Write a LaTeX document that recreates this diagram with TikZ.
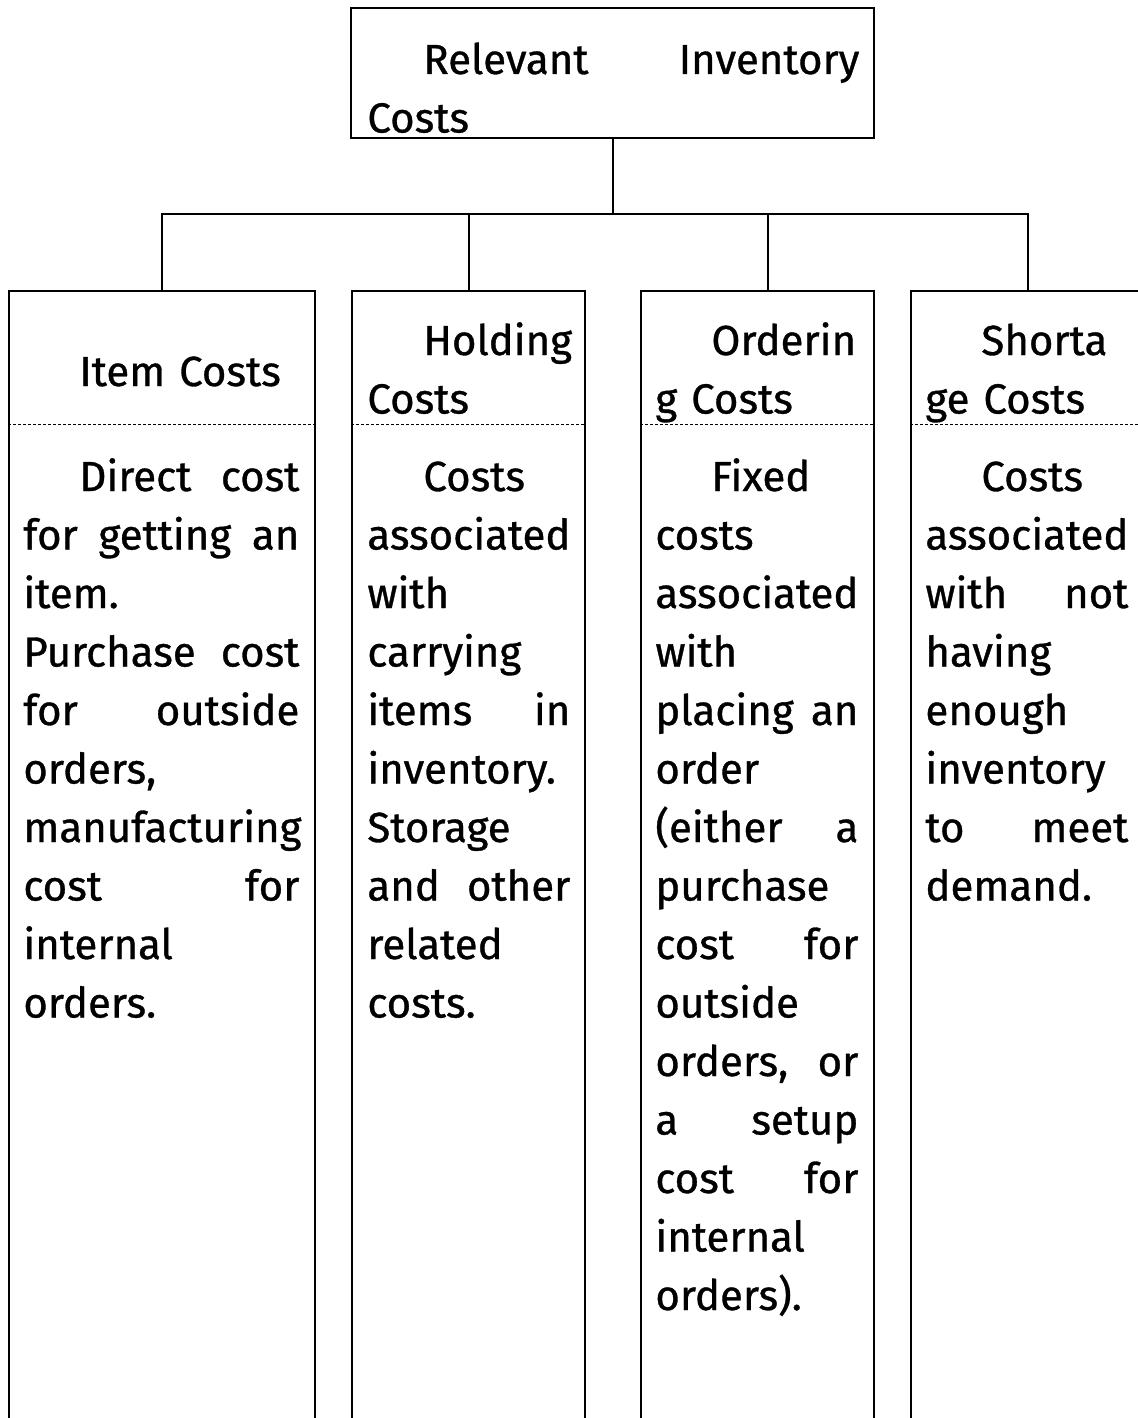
\documentclass[tikz,border=0pt]{standalone}
\usepackage{fontspec}
\setmainfont{Fira Sans}[FakeBold=0.8]
\hyphenpenalty=10000
\hbadness=10000
\hfuzz=20pt
\newcommand{\ind}{\hspace*{28pt}}
\begin{document}
\begin{tikzpicture}[x=0.5pt,y=-0.5pt,
  box/.style={draw,line width=1pt,inner sep=0pt,anchor=north west},
  txt/.style={inner sep=0pt,anchor=base west,align=left,
    font=\fontsize{21}{29.25}\selectfont},
  link/.style={line width=1pt},
  sep/.style={line width=0.5pt,dash pattern=on 1.5pt off 1pt}]
  \useasboundingbox (0,0) rectangle (1138,1418);
  \clip (0,0) rectangle (1138,1418);
  \node[box,minimum width=261.5pt,minimum height=65pt] (root) at (350,7) {};
  \node[txt,text width=246pt] (roottxt) at ([shift={(17,67)}]root.north west)
    {\ind Relevant\hfill Inventory\\Costs};
  \node[box,minimum width=153pt,minimum height=580pt] (item) at (8,290) {};
  \node[box,minimum width=116.5pt,minimum height=580pt] (holding) at (351,290) {};
  \node[box,minimum width=116.5pt,minimum height=580pt] (ordering) at (640,290) {};
  \node[box,minimum width=116.5pt,minimum height=580pt] (shortage) at (910,290) {};
  \foreach \c in {item,holding,ordering,shortage}
    \draw[sep] ([yshift=-67pt]\c.north west) -- ([yshift=-67pt]\c.north east);
  \node[txt,text width=138pt] (itemhead) at ([shift={(15,96)}]item.north west)
    {\ind Item Costs};
  \node[txt,text width=101.5pt] (holdhead) at ([shift={(16,65)}]holding.north west)
    {\ind \mbox{Holding}\\Costs};
  \node[txt,text width=101.5pt] (orderhead) at ([shift={(15,65)}]ordering.north west)
    {\ind Orderin\\g Costs};
  \node[txt,text width=101.5pt] (shorthead) at ([shift={(15,65)}]shortage.north west)
    {\ind Shorta\\ge Costs};
  \node[txt,text width=138pt] (itembody) at ([shift={(15,201)}]item.north west)
    {\ind Direct\hfill cost\\for\hfill getting\hfill an\\item.\\
     Purchase\hfill cost\\for\hfill outside\\orders,\\manufacturing\\
     cost\hfill for\\internal\\orders.};
  \node[txt,text width=101.5pt] (holdbody) at ([shift={(16,201)}]holding.north west)
    {\ind Costs\\associated\\with\\carrying\\items\hfill in\\inventory.\\
     Storage\\and\hfill other\\related\\costs.};
  \node[txt,text width=101.5pt] (orderbody) at ([shift={(15,201)}]ordering.north west)
    {\ind Fixed\\costs\\associated\\with\\placing\hfill an\\order\\
     (either\hfill a\\purchase\\cost\hfill for\\outside\\orders,\hfill or\\
     a\hfill setup\\cost\hfill for\\internal\\orders).};
  \node[txt,text width=101.5pt] (shortbody) at ([shift={(15,201)}]shortage.north west)
    {\ind Costs\\associated\\with\hfill not\\having\\enough\\inventory\\
     to\hfill meet\\demand.};
  \coordinate (bus) at (root.south |- 0,214);
  \draw[link] (root.south) -- (bus);
  \draw[link] (item.north) |- (bus -| shortage.north) -- (shortage.north);
  \draw[link] (holding.north) -- (holding.north |- bus);
  \draw[link] ([xshift=5.25pt]ordering.north) -- ([xshift=5.25pt]ordering.north |- bus);
\end{tikzpicture}
\end{document}
